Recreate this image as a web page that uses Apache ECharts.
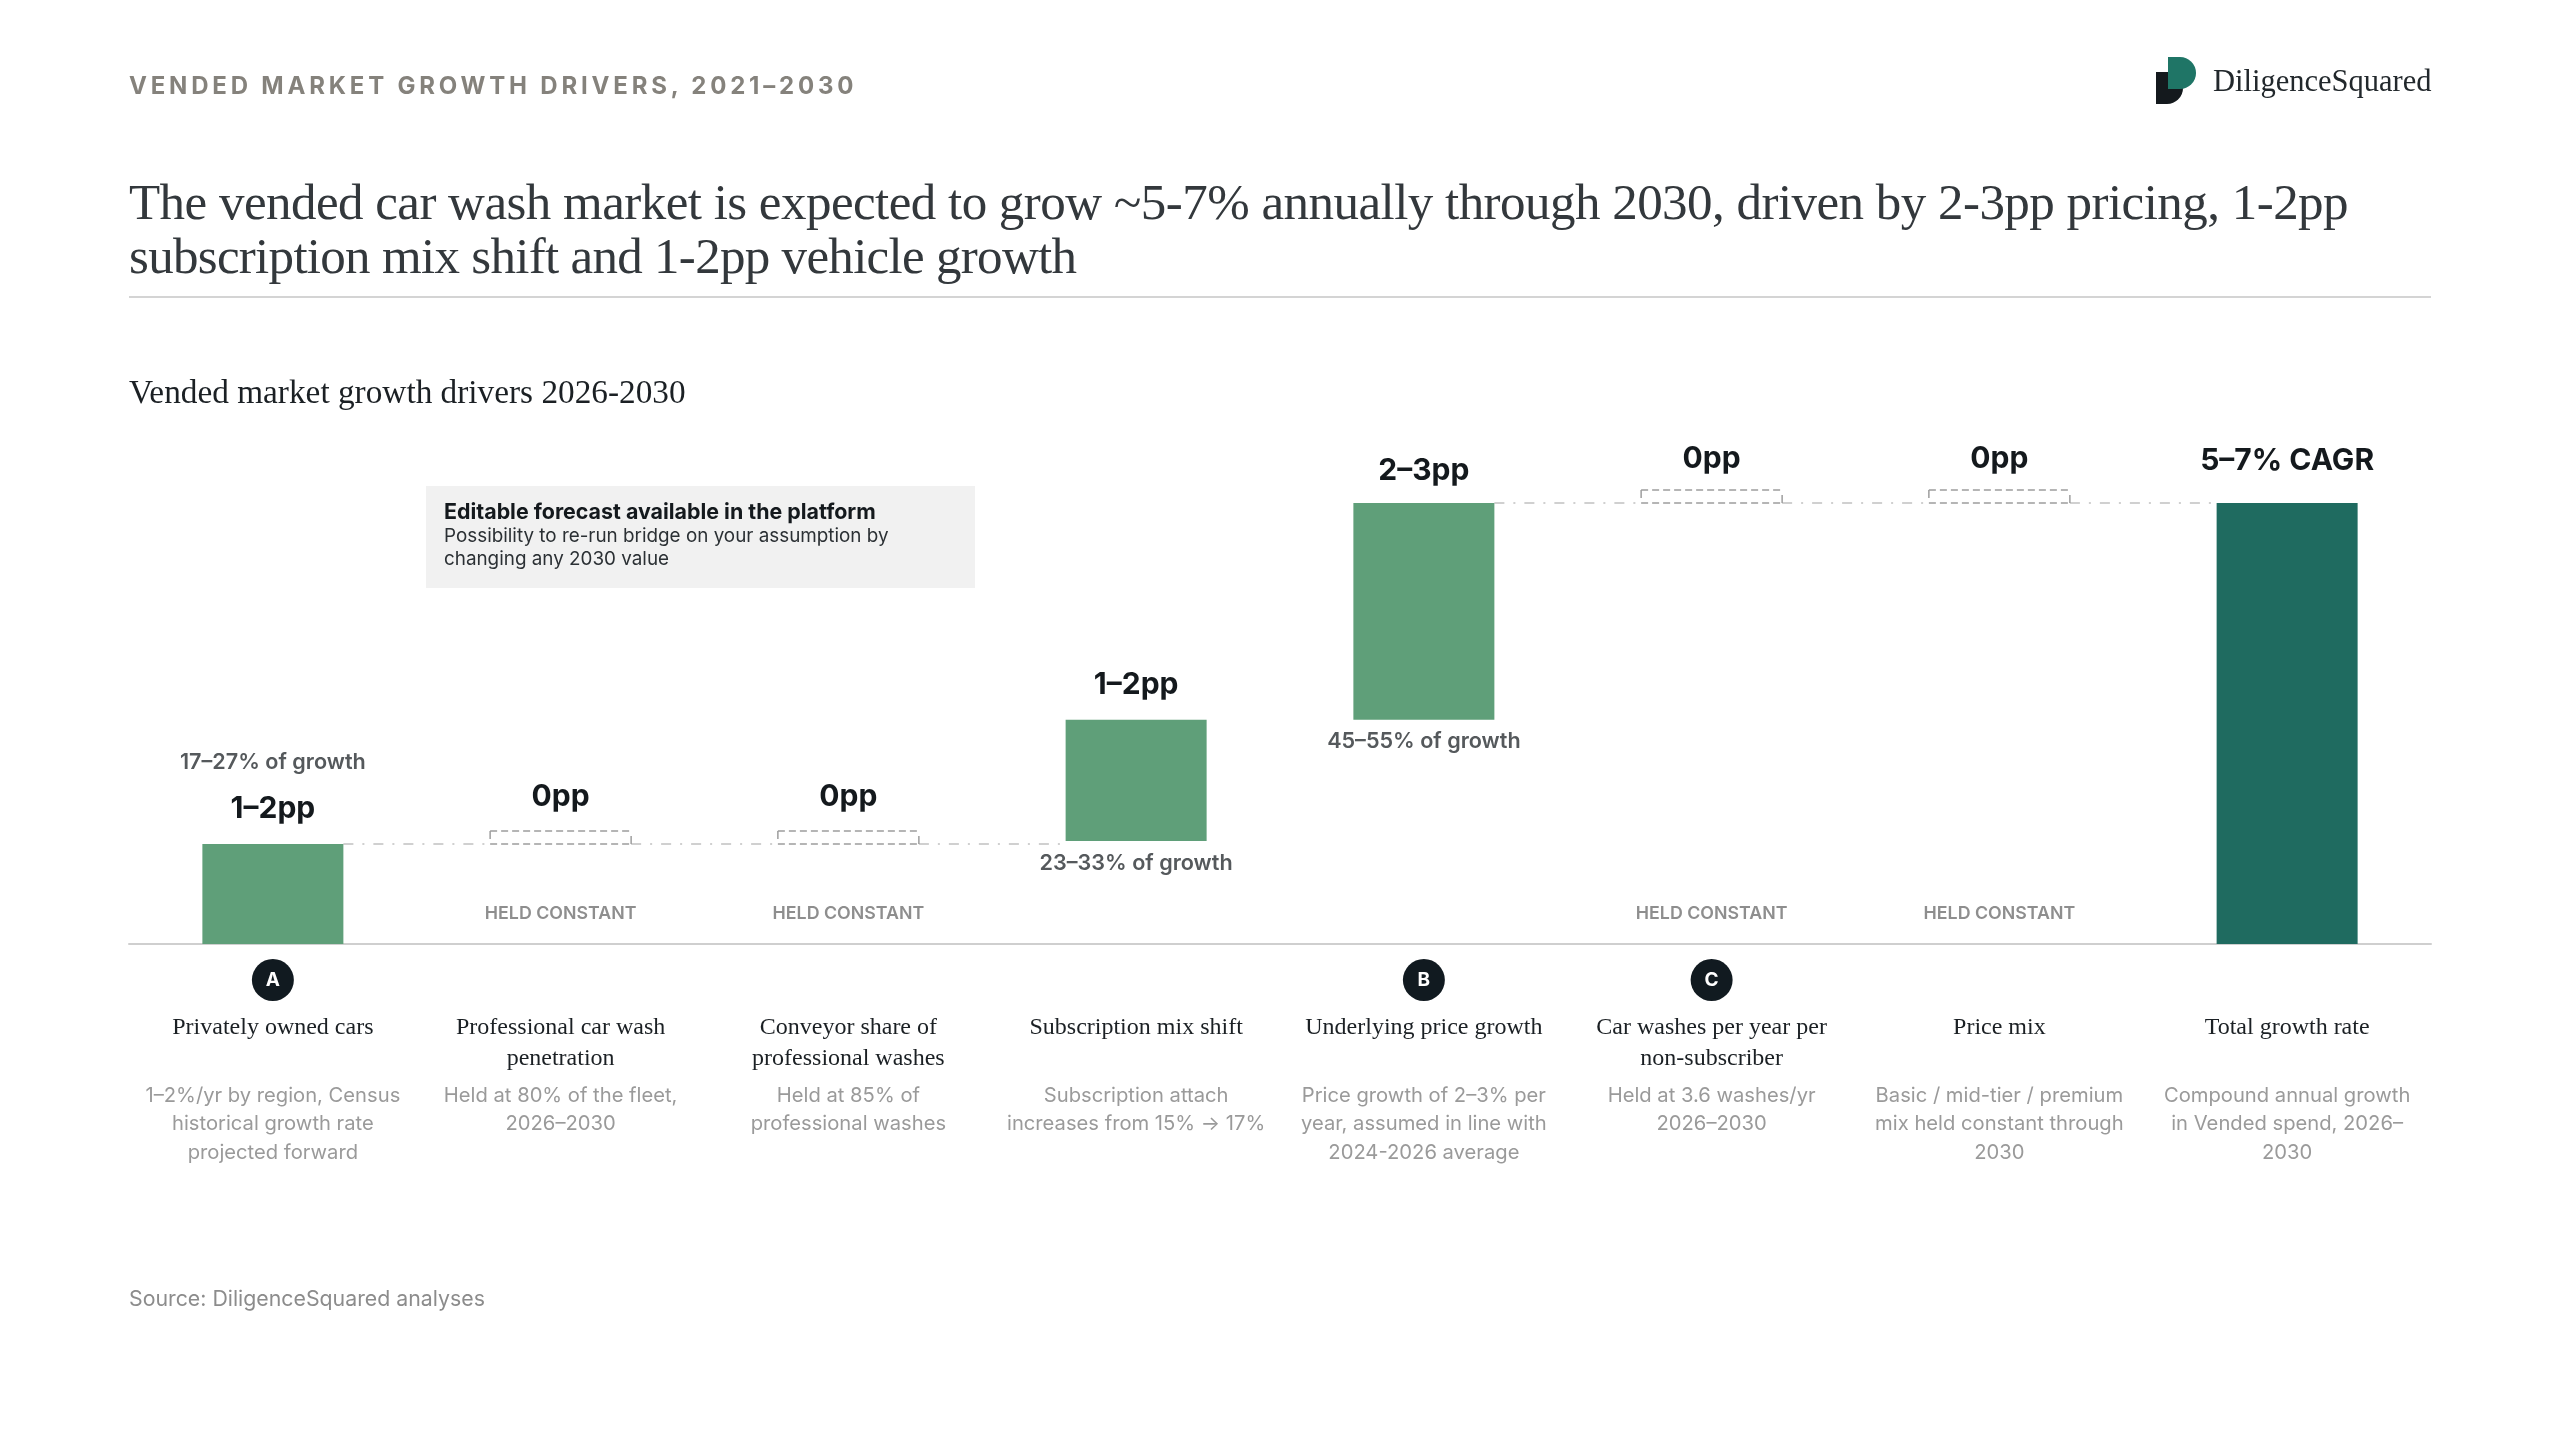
<!DOCTYPE html>
<html>
<head>
<meta charset="utf-8">
<title>Vended market growth drivers</title>
<script src="https://cdn.jsdelivr.net/npm/echarts@6/dist/echarts.min.js"></script>
<style>
  html, body { margin: 0; padding: 0; background: #fff; }
  #page { position: relative; width: 2560px; height: 1440px; overflow: hidden; }
  #chart { position: absolute; left: 0; top: 0; width: 2560px; height: 1440px; }
  .txt { position: absolute; white-space: nowrap; }
  #eyebrow { left: 129px; top: 71px; font: 700 24px/30px Inter, sans-serif; letter-spacing: 3.8px; color: #85827c; }
  #headline { left: 129px; top: 175px; font: 400 51px/54px "Liberation Serif", serif; letter-spacing: -0.53px; color: #33383c; }
  #headline span { letter-spacing: -0.7px; }
  #rule { position: absolute; left: 129px; top: 296px; width: 2302px; height: 2px; background: #d4d4d4; }
  #subhead { left: 129px; top: 372px; font: 400 33.3px/40px "Liberation Serif", serif; color: #1b2024; }
  #brand { left: 2213px; top: 61px; font: 400 30.5px/40px "Liberation Serif", serif; color: #22282c; }
  #logo { position: absolute; left: 2156px; top: 57px; }
  #source { left: 129px; top: 1284px; font: 400 21.3px/28px Inter, sans-serif; color: #8c8c8c; }
</style>
</head>
<body>
<div id="page">
  <div id="chart"></div>
  <div class="txt" id="eyebrow">VENDED MARKET GROWTH DRIVERS, 2021–2030</div>
  <div class="txt" id="headline">The vended car wash market is expected to grow ~5-7% annually through 2030, driven by 2-3pp pricing, 1-2pp<br><span>subscription mix shift and 1-2pp vehicle growth</span></div>
  <div id="rule"></div>
  <div class="txt" id="subhead">Vended market growth drivers 2026-2030</div>
  <svg id="logo" width="42" height="48" viewBox="0 0 42 48">
    <path d="M0 15 H27 V31 A16 16 0 0 1 11 47 H0 Z" fill="#14191d"/>
    <path d="M12 0 H24 A16 16 0 0 1 24 32 H12 Z" fill="#1f7566"/>
  </svg>
  <div class="txt" id="brand">DiligenceSquared</div>
  <div class="txt" id="source">Source: DiligenceSquared analyses</div>
</div>

<script>
const categories = [
    'Privately owned cars',
    'Professional car wash\npenetration',
    'Conveyor share of\nprofessional washes',
    'Subscription mix shift',
    'Underlying price growth',
    'Car washes per year per\nnon-subscriber',
    'Price mix',
    'Total growth rate'
];
const notes = [
    '1–2%/yr by region, Census\nhistorical growth rate\nprojected forward',
    'Held at 80% of the fleet,\n2026–2030',
    'Held at 85% of\nprofessional washes',
    'Subscription attach\nincreases from 15% → 17%',
    'Price growth of 2–3% per\nyear, assumed in line with\n2024-2026 average',
    'Held at 3.6 washes/yr\n2026–2030',
    'Basic / mid-tier / premium\nmix held constant through\n2030',
    'Compound annual growth\nin Vended spend, 2026–\n2030'
];
const badges = ['A', '', '', '', 'B', 'C', '', ''];
const baseValues = [0, 1.36, 1.36, 1.4, 3.05, 6, 6, 0];
const barValues = [1.36, 0, 0, 1.65, 2.95, 0, 0, 6];
const valueLabels = ['1–2pp', '0pp', '0pp', '1–2pp', '2–3pp', '0pp', '0pp', '5–7% CAGR'];
const shareLabels = ['17–27% of growth', '', '', '23–33% of growth', '45–55% of growth', '', '', ''];
const connectorStarts = [0, 1, 2, 4, 5, 6];
const connectorLevels = [1.36, 1.36, 1.36, 6, 6, 6];

const BAR_WIDTH = 141;
const GREEN = '#5f9f79';
const TEAL = '#1f6b60';

function axisLabelText(value, i) {
    const nameLines = categories[i].split('\n');
    const noteLines = notes[i].split('\n');
    while (nameLines.length < 2) nameLines.push(' ');
    while (noteLines.length < 3) noteLines.push(' ');
    const top = badges[i] ? '{badge|' + badges[i] + '}' : '{blank| }';
    return [top, '{gapTop| }']
        .concat(nameLines.map(s => '{name|' + s + '}'))
        .concat(['{gap| }'])
        .concat(noteLines.map(s => '{note|' + s + '}'))
        .join('\n');
}

function renderConnector(params, api) {
    const a = api.coord([api.value(0), api.value(2)]);
    const b = api.coord([api.value(0) + 1, api.value(2)]);
    return {
        type: 'line',
        shape: { x1: a[0] + BAR_WIDTH / 2, y1: a[1], x2: b[0] - BAR_WIDTH / 2, y2: b[1] },
        style: { stroke: '#d0d0d0', lineWidth: 2, lineDash: [10, 9, 2, 9] }
    };
}

function renderHeldBox(params, api) {
    const p = api.coord([api.value(0), api.value(1)]);
    const x1 = p[0] - BAR_WIDTH / 2, x2 = p[0] + BAR_WIDTH / 2, y = p[1], top = y - 13;
    const dash = { stroke: '#9d9d9d', lineWidth: 1.6, lineDash: [7, 4] };
    const solid = { stroke: '#9d9d9d', lineWidth: 1.5 };
    return {
        type: 'group',
        children: [
            { type: 'line', shape: { x1: x1, y1: top, x2: x2, y2: top }, style: dash },
            { type: 'line', shape: { x1: x1, y1: y, x2: x2, y2: y }, style: dash },
            { type: 'line', shape: { x1: x1, y1: top, x2: x1, y2: top + 8 }, style: solid },
            { type: 'line', shape: { x1: x2, y1: y - 8, x2: x2, y2: y }, style: solid }
        ]
    };
}

// value labels sit at different gaps above the bars, depending on the kind of bar
function valueLabel(i) {
    const isHeld = barValues[i] === 0;
    if (i === 0) {
        return {
            show: true, position: 'top', distance: 17,
            formatter: '{share|' + shareLabels[0] + '}\n{value|' + valueLabels[0] + '}',
            rich: {
                share: { fontFamily: 'Inter', fontSize: 21.6, fontWeight: 600, color: '#55595c', lineHeight: 58 },
                value: { fontFamily: 'Inter', fontSize: 30, fontWeight: 700, color: '#14191d', lineHeight: 36 }
            }
        };
    }
    let distance = 20;
    if (isHeld) distance = baseValues[i] === 6 ? 29 : 32;
    else if (i === 7) distance = 27;
    else if (i === 4) distance = 17;
    return { show: true, position: 'top', formatter: valueLabels[i], distance: distance };
}

function baseLabel(i) {
    if (barValues[i] === 0) {
        return {
            show: true, position: 'insideBottom', distance: 21, formatter: 'HELD CONSTANT',
            fontFamily: 'Inter', fontSize: 17.8, fontWeight: 600, color: '#8e8e8e'
        };
    }
    if (i > 0 && shareLabels[i]) {
        return {
            show: true, position: 'insideTop', distance: 11, formatter: shareLabels[i],
            fontFamily: 'Inter', fontSize: 21.6, fontWeight: 600, color: '#55595c'
        };
    }
    return { show: false };
}

const chart = echarts.init(document.getElementById('chart'), null, { renderer: 'canvas' });

chart.setOption({
    animation: false,
    backgroundColor: 'transparent',
    tooltip: { show: false },
    grid: { left: 129, right: 129, top: 503, bottom: 496, containLabel: false },
    xAxis: {
        type: 'category',
        data: categories,
        axisTick: { show: false },
        axisLine: { lineStyle: { color: '#cfcfcf', width: 2 } },
        axisLabel: {
            interval: 0,
            margin: 15,
            formatter: axisLabelText,
            align: 'center',
            verticalAlign: 'top',
            rich: {
                badge: {
                    width: 42, height: 42, borderRadius: 21, backgroundColor: '#111a20', align: 'center',
                    color: '#fff', fontFamily: 'Inter', fontSize: 19, fontWeight: 700, lineHeight: 42
                },
                blank: { height: 42, lineHeight: 42, fontSize: 17 },
                gapTop: { fontSize: 4, lineHeight: 11.5 },
                name: { fontFamily: 'Liberation Serif', fontSize: 24, color: '#1b2024', lineHeight: 31 },
                gap: { fontSize: 4, lineHeight: 7 },
                note: { fontFamily: 'Inter', fontSize: 20.2, color: '#9a9a9a', lineHeight: 28.5 }
            }
        }
    },
    yAxis: { type: 'value', min: 0, max: 6, show: false, splitLine: { show: false } },
    series: [
        {
            name: 'connector',
            type: 'custom',
            renderItem: renderConnector,
            data: connectorStarts.map((s, i) => [s, s, connectorLevels[i]]),
            encode: { x: 0, y: 2 },
            silent: true,
            z: 1
        },
        {
            name: 'base',
            type: 'bar',
            stack: 'bridge',
            barWidth: BAR_WIDTH,
            itemStyle: { color: 'transparent' },
            data: baseValues.map((v, i) => ({ value: v, label: baseLabel(i) })),
            z: 2
        },
        {
            name: 'drivers',
            type: 'bar',
            stack: 'bridge',
            barWidth: BAR_WIDTH,
            label: { fontFamily: 'Inter', fontSize: 30, fontWeight: 700, color: '#14191d' },
            data: barValues.map((v, i) => ({
                value: v,
                itemStyle: { color: i === 7 ? TEAL : GREEN },
                label: valueLabel(i)
            })),
            z: 3
        },
        {
            name: 'held',
            type: 'custom',
            renderItem: renderHeldBox,
            data: barValues.map((v, i) => [i, baseValues[i], v]).filter(d => d[2] === 0),
            encode: { x: 0, y: 1 },
            silent: true,
            z: 4
        }
    ],
    graphic: [
        {
            type: 'rect', left: 426, top: 486, silent: true,
            shape: { width: 549, height: 102 }, style: { fill: '#f1f1f1' }
        },
        {
            type: 'text', left: 444, top: 502, silent: true,
            style: {
                text: 'Editable forecast available in the platform',
                fontFamily: 'Inter', fontSize: 21.4, fontWeight: 700, fill: '#14191d'
            }
        },
        {
            type: 'text', left: 444, top: 525, silent: true,
            style: {
                text: 'Possibility to re-run bridge on your assumption by\nchanging any 2030 value',
                fontFamily: 'Inter', fontSize: 18.85, lineHeight: 23, fill: '#2b3034'
            }
        }
    ]
});
</script>
</body>
</html>
